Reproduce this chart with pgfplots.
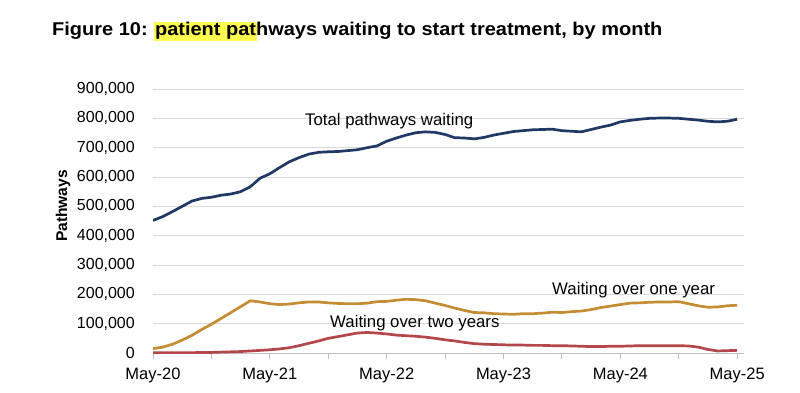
\documentclass[border=0pt]{standalone}
\usepackage{pgfplots}
\pgfplotsset{compat=1.18}
\usepackage{pgfplotstable}
\usepackage{fontspec}
\setmainfont{Liberation Sans}
\newfontfamily\titlefont[FakeStretch=1.08]{Liberation Sans}
\definecolor{navy}{HTML}{1F3864}
\definecolor{gold}{HTML}{C48D33}
\definecolor{brick}{HTML}{B4474A}
\definecolor{gridgrey}{HTML}{D9D9D9}
\definecolor{axisgrey}{HTML}{BFBFBF}
\definecolor{hl}{RGB}{255,252,80}

\pgfplotstableread{
m total one two
0 452 15 1
1 465 20 1
2 482 30 1
3 500 44 1
4 518 60 1
5 527 80 2
6 531 98 2
7 538 118 3
8 542 138 4
9 550 158 5
10 567 178 7
11 596 174 9
12 611 168 11
13 632 165 14
14 652 167 18
15 666 171 25
16 678 174 33
17 684 174 41
18 686 171 50
19 687 169 56
20 690 168 62
21 693 168 68
22 700 170 70
23 706 175 68
24 722 176 65
25 733 180 61
26 743 183 59
27 751 182 57
28 754 178 54
29 752 170 50
30 745 162 45
31 734 153 41
32 733 145 36
33 730 138 32
34 735 137 30
35 743 134 29
36 749 133 28
37 755 132 27
38 758 134 27
39 761 134 26
40 762 136 26
41 763 139 25
42 758 138 25
43 756 141 24
44 754 143 23
45 762 148 22
46 770 155 22
47 777 160 23
48 788 165 23
49 793 170 24
50 797 171 25
51 800 173 25
52 801 174 25
53 801 174 25
54 800 175 25
55 797 168 24
56 794 161 20
57 790 156 12
58 788 157 7
59 790 161 8
60 797 163 9
}\datatable

\begin{document}
\begin{tikzpicture}[x=1pt,y=1pt]
\path[use as bounding box] (0,0) rectangle (800,392);
\begin{axis}[
  at={(153pt,39pt)}, anchor=south west,
  scale only axis, width=591pt, height=264pt,
  xmin=0, xmax=60.7, ymin=0, ymax=900000,
  axis x line*=bottom, axis y line*=left,
  y axis line style={draw=none},
  x axis line style={draw=axisgrey, line width=1pt},
  xtick={0,12,24,36,48,60},
  xticklabels={May-20,May-21,May-22,May-23,May-24,May-25},
  minor xtick={6,18,30,42,54},
  tick align=outside,
  major tick length=6pt, minor tick length=6pt,
  xtick style={draw=axisgrey, line width=1pt},
  minor tick style={draw=axisgrey, line width=1pt},
  ytick={0,100000,...,900000},
  ytick style={draw=none},
  scaled y ticks=false,
  yticklabel style={/pgf/number format/fixed, /pgf/number format/precision=0,
    /pgf/number format/1000 sep={,}, /pgf/number format/assume math mode=true,
    anchor=east, inner sep=0pt, xshift=-12pt, font=\fontsize{16}{19}\selectfont},
  xticklabel style={anchor=north, inner sep=0pt, yshift=-9pt, font=\fontsize{16.5}{19}\selectfont},
  ymajorgrids, major grid style={draw=gridgrey, line width=1pt},
  every axis plot/.append style={line width=2.7pt, line join=round},
]
\addplot[navy, no marks] table[x=m, y expr=\thisrow{total}*1000] {\datatable};
\addplot[gold, no marks] table[x=m, y expr=\thisrow{one}*1000] {\datatable};
\addplot[brick, no marks] table[x=m, y expr=\thisrow{two}*1000] {\datatable};
\end{axis}
\node[anchor=base west, inner sep=0pt] at (52,356) {\titlefont\fontsize{18.5}{22}\selectfont\bfseries Figure 10:\kern-1pt{} {\setlength{\fboxsep}{1pt}\colorbox{hl}{patient pat}}\kern-1pt hways waiting to start treatment, by month};
\node[anchor=base west, inner sep=0pt, font=\fontsize{16.8}{20}\selectfont] at (305,267) {Total pathways waiting};
\node[anchor=base west, inner sep=0pt, font=\fontsize{16.8}{20}\selectfont] at (552,98) {Waiting over one year};
\node[anchor=base west, inner sep=0pt, font=\fontsize{16.8}{20}\selectfont] at (330,65) {Waiting over two years};
\node[rotate=90, inner sep=0pt, font=\fontsize{15.6}{18}\selectfont\bfseries] at (63,186) {Pathways};
\end{tikzpicture}
\end{document}
